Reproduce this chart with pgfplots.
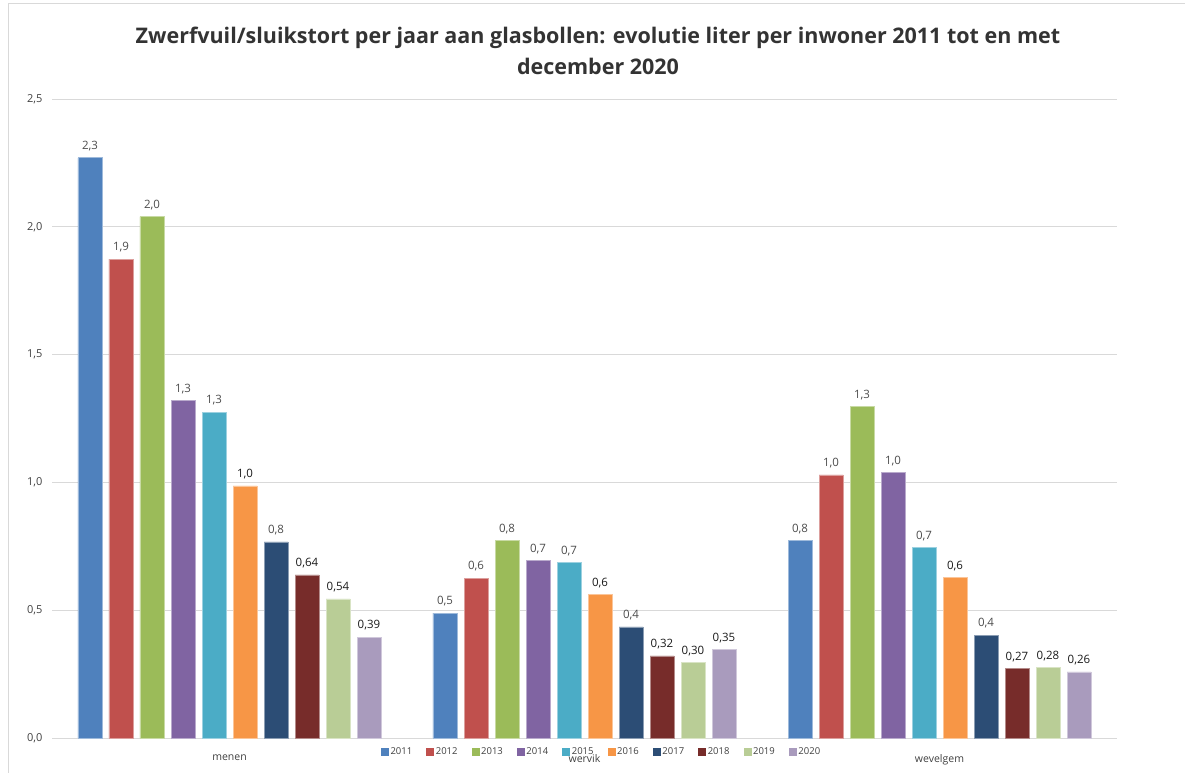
\documentclass[border=0pt]{standalone}
\usepackage{pgfplots}
\pgfplotsset{compat=1.18}
\usepackage{pgfplotstable}
\usepackage{fontspec}
\setmainfont{Open Sans}

\definecolor{cA}{HTML}{4F81BD}
\definecolor{cB}{HTML}{C0504D}
\definecolor{cC}{HTML}{9BBB59}
\definecolor{cD}{HTML}{8064A2}
\definecolor{cE}{HTML}{4BACC6}
\definecolor{cF}{HTML}{F79646}
\definecolor{cG}{HTML}{2C4D75}
\definecolor{cH}{HTML}{772C2A}
\definecolor{cI}{HTML}{B9CD96}
\definecolor{cJ}{HTML}{A99BBD}

\pgfplotstableread{
x y lab
0 2.270 2,3
1 0.489 0,5
2 0.772 0,8
}\dA
\pgfplotstableread{
x y lab
0 1.874 1,9
1 0.626 0,6
2 1.029 1,0
}\dB
\pgfplotstableread{
x y lab
0 2.040 2,0
1 0.772 0,8
2 1.296 1,3
}\dC
\pgfplotstableread{
x y lab
0 1.320 1,3
1 0.694 0,7
2 1.039 1,0
}\dD
\pgfplotstableread{
x y lab
0 1.275 1,3
1 0.687 0,7
2 0.746 0,7
}\dE
\pgfplotstableread{
x y lab
0 0.986 1,0
1 0.562 0,6
2 0.627 0,6
}\dF
\pgfplotstableread{
x y lab
0 0.767 0,8
1 0.435 0,4
2 0.403 0,4
}\dG
\pgfplotstableread{
x y lab
0 0.638 0,64
1 0.321 0,32
2 0.273 0,27
}\dH
\pgfplotstableread{
x y lab
0 0.544 0,54
1 0.295 0,30
2 0.275 0,28
}\dI
\pgfplotstableread{
x y lab
0 0.395 0,39
1 0.347 0,35
2 0.259 0,26
}\dJ

\pgfplotsset{
  sq/.style={fill=#1, draw=#1!55!white, line width=0.6pt,
    legend image code/.code={\fill[#1] (0pt,-3.5pt) rectangle (7pt,3.5pt);}},
  dark/.style={nodes near coords style={text=black!90}},
}

\begin{document}
\begin{tikzpicture}
\useasboundingbox (0pt,0pt) rectangle (1185pt,-773pt);
\draw[black!15, line width=1pt] (8pt,-773pt) -- (8pt,-4pt) -- (1185pt,-4pt);
\node[font=\bfseries\fontsize{21.5}{31}\selectfont, text=black!80, align=center] at (598pt,-50.5pt)
  {Zwerfvuil/sluikstort per jaar aan glasbollen: evolutie liter per inwoner 2011 tot en met\\december 2020};
\begin{axis}[
  at={(52pt,-738pt)}, anchor=south west,
  scale only axis, width=1065pt, height=639pt,
  xmin=-0.5, xmax=2.5, ymin=0, ymax=2.5,
  ytick={0,0.5,1,1.5,2,2.5},
  xtick={0,1,2}, xticklabels={menen,wervik,wevelgem},
  ymajorgrids, grid style={black!15, line width=1pt},
  axis x line*=bottom, axis y line*=left,
  y axis line style={draw=none},
  x axis line style={black!15, line width=1pt},
  major tick length=0pt,
  ybar=7pt, bar width=24pt,
  yticklabel style={font=\fontsize{11}{13}\selectfont, text=black!75, xshift=-6pt,
    /pgf/number format/.cd, fixed, fixed zerofill, precision=1, use comma, assume math mode=true},
  xticklabel style={font=\fontsize{10.5}{12}\selectfont, text=black!75, yshift=-13pt},
  point meta=explicit symbolic,
  nodes near coords,
  nodes near coords style={font=\fontsize{11.5}{13}\selectfont, text=black!70, yshift=3pt},
  legend columns=10,
  legend style={draw=none, fill=none, at={(0.516,-0.022)}, anchor=center,
    font=\fontsize{9.5}{11}\selectfont, text=black!75,
    /tikz/every even column/.append style={column sep=12pt}},
  legend cell align=left,
]
\addplot[sq=cA] table[x=x,y=y,meta=lab]{\dA};
\addplot[sq=cB] table[x=x,y=y,meta=lab]{\dB};
\addplot[sq=cC] table[x=x,y=y,meta=lab]{\dC};
\addplot[sq=cD] table[x=x,y=y,meta=lab]{\dD};
\addplot[sq=cE] table[x=x,y=y,meta=lab]{\dE};
\addplot[sq=cF, dark] table[x=x,y=y,meta=lab]{\dF};
\addplot[sq=cG] table[x=x,y=y,meta=lab]{\dG};
\addplot[sq=cH, dark] table[x=x,y=y,meta=lab]{\dH};
\addplot[sq=cI, dark] table[x=x,y=y,meta=lab]{\dI};
\addplot[sq=cJ, dark] table[x=x,y=y,meta=lab]{\dJ};
\legend{2011,2012,2013,2014,2015,2016,2017,2018,2019,2020}
\end{axis}
\end{tikzpicture}
\end{document}
